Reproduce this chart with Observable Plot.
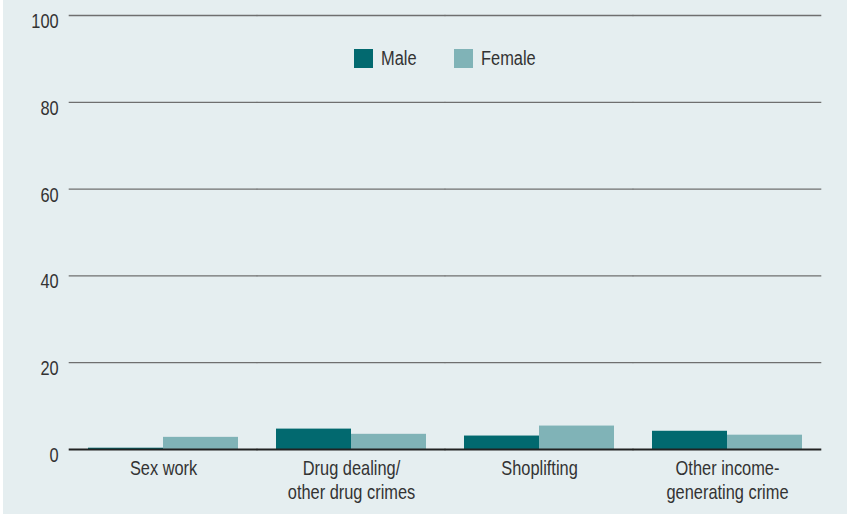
<!DOCTYPE html>
<html>
<head>
<meta charset="utf-8">
<script src="https://cdn.jsdelivr.net/npm/d3@7"></script>
<script src="https://cdn.jsdelivr.net/npm/@observablehq/plot@0.6"></script>
<style>
  html, body { margin: 0; padding: 0; background: #ffffff; }
  #wrap { position: relative; margin-left: 3px; width: 844px; height: 514px; background: #e5eef0; overflow: hidden; }
  #legend { position: absolute; left: 47px; width: 752px; top: 39px; height: 38px; display: flex; justify-content: center; align-items: center; }
  .lg-swatches { font-family: "Liberation Sans", Arial, sans-serif !important; font-size: 20px !important; color: #333 !important; margin: 0 !important; }
  .lg-swatch { margin-right: 0 !important; margin-left: 38px !important; }
  .lg-swatch:first-child { margin-left: 0 !important; }
  .lg-swatch > svg { margin-right: 8px !important; }
  .lg-label { display: inline-block; transform: scaleX(0.82); transform-origin: 0 50%; }
</style>
</head>
<body>
<div id="wrap"><div id="legend"></div></div>
<script>
const categories = ["Sex work", "Drug dealing/other drug crimes", "Shoplifting", "Other income-generating crime"];
const categoryLabels = ["Sex work", "Drug dealing/\nother drug crimes", "Shoplifting", "Other income-\ngenerating crime"];
const sexes = ["Male", "Female"];
const colors = ["#02696f", "#80b3b7"];
const maleValues = [0.3, 4.7, 3.1, 4.2];
const femaleValues = [2.8, 3.5, 5.4, 3.3];
const yTicks = [0, 20, 40, 60, 80, 100];

const data = categories.flatMap((c, i) => [
  {category: c, sex: "Male", value: maleValues[i]},
  {category: c, sex: "Female", value: femaleValues[i]}
]);

const font = '"Liberation Sans", Arial, sans-serif';
const condense = 0.82; // the reference uses a condensed face

const W = 844, ML = 66, MR = 26;
const padInner = 0.2, padOuter = 0.1;
const step = (W - ML - MR) / (categories.length - padInner + 2 * padOuter);
const halfGap = -step * padOuter; // extend per-facet rules across the gaps between facets
const ruleInset = halfGap - 0.5;   // tiny overlap so the joined rules look continuous

const chart = Plot.plot({
  width: W,
  height: 514,
  marginLeft: ML,
  marginRight: MR,
  marginTop: 15,
  marginBottom: 65,
  style: {background: "transparent", fontSize: "20px", fontFamily: font, color: "#333", overflow: "visible"},
  fx: {domain: categories, paddingInner: padInner, paddingOuter: padOuter, label: null},
  x: {domain: sexes, padding: 0, axis: null},
  y: {domain: [0, 100], label: null},
  color: {domain: sexes, range: colors},
  marks: [
    Plot.ruleY(yTicks.filter(d => d > 0), {stroke: "#6f6f6f", strokeWidth: 1.3, insetLeft: ruleInset, insetRight: ruleInset}),
    Plot.barY(data, {fx: "category", x: "sex", y: "value", fill: "sex"}),
    Plot.ruleY([0], {stroke: "#222", strokeWidth: 1.8, insetLeft: ruleInset, insetRight: ruleInset}),
    Plot.axisY({ticks: yTicks, tickSize: 0, tickPadding: 11, dx: halfGap, dy: 6, label: null, fontSize: 20}),
    Plot.axisFx({anchor: "bottom", tickSize: 0, tickPadding: 8, label: null, lineHeight: 1.2, fontSize: 20,
      tickFormat: d => categoryLabels[categories.indexOf(d)]})
  ]
});
document.getElementById("wrap").appendChild(chart);

// horizontally condense each text around its own anchor point
const svgNS = "http://www.w3.org/2000/svg";
Array.from(chart.querySelectorAll("text")).forEach(t => {
  const g = document.createElementNS(svgNS, "g");
  t.parentNode.insertBefore(g, t);
  g.appendChild(t);
  const b = g.getBBox();
  const anchor = getComputedStyle(t).textAnchor;
  const ax = anchor === "middle" ? b.x + b.width / 2 : anchor === "end" ? b.x + b.width : b.x;
  g.setAttribute("transform", `translate(${ax},0) scale(${condense},1) translate(${-ax},0)`);
});

const legend = Plot.legend({
  color: {domain: sexes, range: colors},
  legend: "swatches",
  swatchSize: 19,
  className: "lg"
});
document.getElementById("legend").appendChild(legend);
legend.querySelectorAll(".lg-swatch").forEach(sw => {
  const nodes = Array.from(sw.childNodes).filter(n => n.nodeType === 3 && n.textContent.trim());
  nodes.forEach(n => {
    const span = document.createElement("span");
    span.className = "lg-label";
    span.textContent = n.textContent;
    sw.replaceChild(span, n);
    span.style.marginRight = (-(1 - condense) * span.getBoundingClientRect().width / condense) + "px";
  });
});
</script>
</body>
</html>
